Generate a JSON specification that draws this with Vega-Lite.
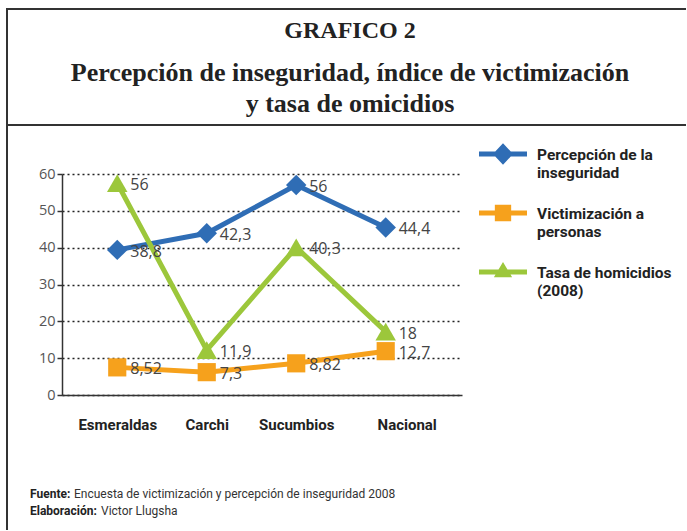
{
  "$schema": "https://vega.github.io/schema/vega-lite/v6.json",
  "padding": {"left": 6, "top": 8, "right": 0, "bottom": 0},
  "background": "white",
  "spacing": 0,
  "bounds": "flush",
  "config": {
    "view": {"stroke": "#333333", "strokeWidth": 2}
  },
  "vconcat": [
    {
      "width": 679,
      "height": 116,
      "view": {"stroke": "#333333", "strokeWidth": 2, "strokeDash": [679, 116, 800, 100]},
      "data": {"values": [{"titulo": "GRAFICO 2", "subtitulo": ["Percepción de inseguridad, índice de victimización", "y tasa de omicidios"]}]},
      "layer": [
        {
          "mark": {"type": "text", "font": "Liberation Serif", "fontWeight": "bold", "fontSize": 24, "baseline": "alphabetic", "align": "center", "dx": 3.5, "dy": -29, "color": "#222222"},
          "encoding": {"text": {"field": "titulo", "type": "nominal"}}
        },
        {
          "mark": {"type": "text", "font": "Liberation Serif", "fontWeight": "bold", "fontSize": 26, "lineHeight": 31, "baseline": "alphabetic", "align": "center", "dx": 3.5, "dy": 14, "color": "#222222"},
          "encoding": {"text": {"field": "subtitulo", "type": "nominal"}}
        }
      ]
    },
    {
      "width": 679,
      "height": 405,
      "view": {"stroke": "#333333", "strokeWidth": 2, "strokeDash": [679, 1084, 420]},
      "layer": [
        {
          "data": {"name": "series"},
          "layer": [
            {"mark": {"type": "line", "strokeWidth": 5}},
            {
              "transform": [{"filter": "datum.serie === 'Percepción de la inseguridad'"}],
              "mark": {"type": "point", "shape": "diamond", "filled": true, "opacity": 1, "size": 420, "strokeWidth": 0}
            },
            {
              "transform": [{"filter": "datum.serie === 'Victimización a personas'"}],
              "mark": {"type": "point", "shape": "square", "filled": true, "opacity": 1, "size": 330, "strokeWidth": 0}
            },
            {
              "transform": [{"filter": "datum.serie === 'Tasa de homicidios (2008)'"}],
              "mark": {"type": "point", "shape": "triangle-up", "filled": true, "opacity": 1, "size": 420, "strokeWidth": 0}
            },
            {
              "mark": {"type": "text", "font": "Open Sans", "fontSize": 16, "align": "left", "baseline": "middle", "dx": 13, "dy": 2, "color": "#444444"},
              "encoding": {"text": {"field": "etiqueta", "type": "nominal"}, "color": {"value": "#444444"}}
            },
            {
              "transform": [{"filter": "false"}],
              "mark": {"type": "point", "filled": true, "opacity": 1, "strokeWidth": 0},
              "encoding": {
                "shape": {
                  "field": "serie", "type": "nominal",
                  "scale": {
                    "domain": ["Percepción de la inseguridad", "Victimización a personas", "Tasa de homicidios (2008)"],
                    "range": [
                      "M-1,-0.1L1,-0.1L1,0.1L-1,0.1Z M0,-0.45L0.42,0L0,0.45L-0.42,0Z",
                      "M-1,-0.1L1,-0.1L1,0.1L-1,0.1Z M-0.34,-0.34L0.34,-0.34L0.34,0.34L-0.34,0.34Z",
                      "M-1,-0.1L1,-0.1L1,0.1L-1,0.1Z M0,-0.42L0.38,0.22L-0.38,0.22Z"
                    ]
                  },
                  "legend": {"title": null}
                }
              }
            }
          ],
          "encoding": {
            "x": {
              "field": "zona", "type": "nominal",
              "sort": ["Esmeraldas", "Carchi", "Sucumbios", "Nacional"],
              "scale": {"type": "point", "range": [55, 455], "padding": 0.735, "align": 0.42},
              "axis": {
                "title": null, "offset": -135, "domain": true, "domainColor": "#333333", "domainWidth": 1.5,
                "ticks": false, "tickSize": 0, "grid": false, "labelAngle": 0,
                "labelFont": "Roboto", "labelFontSize": 15, "labelFontWeight": "bold", "labelColor": "#222222", "labelPadding": 22,
                "labelOffset": {"condition": {"test": "datum.value === 'Nacional'", "value": 21}, "value": 0}
              }
            },
            "y": {
              "field": "valor", "type": "quantitative",
              "scale": {"domain": [0, 60], "range": [270, 49], "nice": false},
              "axis": {
                "title": null, "offset": -55, "values": [0, 10, 20, 30, 40, 50, 60],
                "domain": true, "domainColor": "#333333", "domainWidth": 1.5,
                "ticks": true, "tickSize": 5, "tickColor": "#333333", "tickWidth": 1.5,
                "labelFont": "Open Sans", "labelFontSize": 14.5, "labelColor": "#555555", "labelPadding": 2,
                "grid": true, "gridColor": "#222222", "gridDash": [2, 3], "gridWidth": 1.3
              }
            },
            "color": {
              "field": "serie", "type": "nominal",
              "scale": {"domain": ["Percepción de la inseguridad", "Victimización a personas", "Tasa de homicidios (2008)"], "range": ["#2f6db5", "#f6a11c", "#9cc73b"]},
              "legend": {
                "title": null, "orient": "none", "legendX": 472, "legendY": 121, "padding": 0,
                "symbolSize": 2304, "symbolStrokeWidth": 0,
                "labelFont": "Roboto", "labelFontSize": 15.5, "labelFontWeight": "bold", "labelColor": "#222222",
                "labelLimit": 300, "labelOffset": 10, "rowPadding": 8, "labelBaseline": "alphabetic",
                "labelExpr": "datum.label === 'Percepción de la inseguridad' ? ['Percepción de la', 'inseguridad'] : datum.label === 'Victimización a personas' ? ['Victimización a', 'personas'] : ['Tasa de homicidios', '(2008)']",
                "encode": {
                  "symbols": {"update": {
                    "size": {"value": 2304},
                    "strokeWidth": {"value": 0},
                    "opacity": {"value": 1}
                  }},
                  "labels": {"update": {"dy": {"value": 6}}}
                }
              }
            }
          }
        },
        {
          "data": {"values": [{"t": ["Fuente:", "Elaboración:"]}]},
          "mark": {"type": "text", "x": 23, "y": 372.5, "align": "left", "baseline": "alphabetic", "lineHeight": 17.5, "font": "Roboto", "fontSize": 12, "fontWeight": "bold", "color": "#222222"},
          "encoding": {"text": {"field": "t", "type": "nominal"}}
        },
        {
          "data": {"values": [{"t": "Encuesta de victimización y percepción de inseguridad 2008"}]},
          "mark": {"type": "text", "x": 67, "y": 372.5, "align": "left", "baseline": "alphabetic", "font": "Roboto", "fontSize": 12, "color": "#333333"},
          "encoding": {"text": {"field": "t", "type": "nominal"}}
        },
        {
          "data": {"values": [{"t": "Victor Llugsha"}]},
          "mark": {"type": "text", "x": 94, "y": 390, "align": "left", "baseline": "alphabetic", "font": "Roboto", "fontSize": 12, "color": "#333333"},
          "encoding": {"text": {"field": "t", "type": "nominal"}}
        }
      ]
    }
  ],
  "datasets": {
    "series": [
      {"zona": "Esmeraldas", "serie": "Percepción de la inseguridad", "valor": 39.4, "etiqueta": "38,8"},
      {"zona": "Carchi", "serie": "Percepción de la inseguridad", "valor": 43.9, "etiqueta": "42,3"},
      {"zona": "Sucumbios", "serie": "Percepción de la inseguridad", "valor": 57.0, "etiqueta": "56"},
      {"zona": "Nacional", "serie": "Percepción de la inseguridad", "valor": 45.5, "etiqueta": "44,4"},
      {"zona": "Esmeraldas", "serie": "Victimización a personas", "valor": 7.5, "etiqueta": "8,52"},
      {"zona": "Carchi", "serie": "Victimización a personas", "valor": 6.2, "etiqueta": "7,3"},
      {"zona": "Sucumbios", "serie": "Victimización a personas", "valor": 8.6, "etiqueta": "8,82"},
      {"zona": "Nacional", "serie": "Victimización a personas", "valor": 11.9, "etiqueta": "12,7"},
      {"zona": "Esmeraldas", "serie": "Tasa de homicidios (2008)", "valor": 57.5, "etiqueta": "56"},
      {"zona": "Carchi", "serie": "Tasa de homicidios (2008)", "valor": 12.2, "etiqueta": "11,9"},
      {"zona": "Sucumbios", "serie": "Tasa de homicidios (2008)", "valor": 40.1, "etiqueta": "40,3"},
      {"zona": "Nacional", "serie": "Tasa de homicidios (2008)", "valor": 17.2, "etiqueta": "18"}
    ]
  }
}
